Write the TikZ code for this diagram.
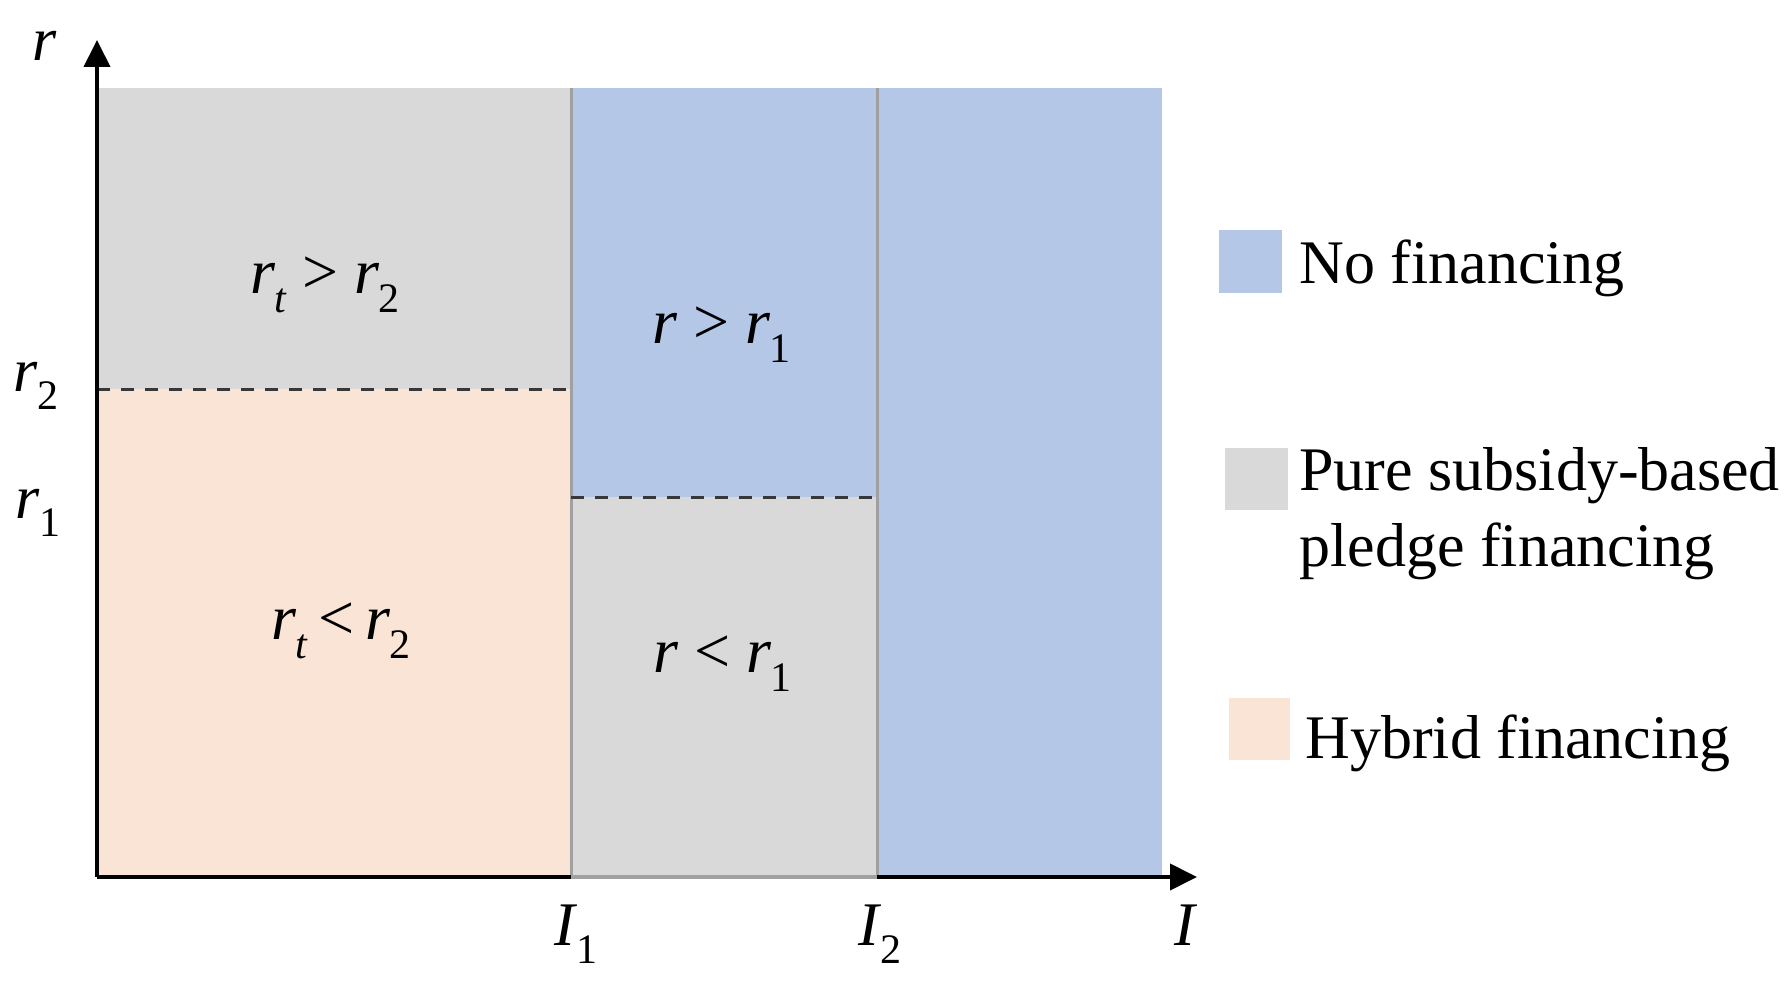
\documentclass[tikz,border=0pt]{standalone}
\usepackage{fontspec}
\setmainfont{Liberation Serif}
\usetikzlibrary{arrows.meta}
\definecolor{nofin}{RGB}{180,199,231}
\definecolor{pure}{RGB}{217,217,217}
\definecolor{hyb}{RGB}{250,228,214}
\definecolor{divider}{RGB}{160,160,160}
\definecolor{dashc}{RGB}{55,55,55}
\newcommand{\sv}[2]{\textit{#1}\kern-0.02em\raisebox{-0.3em}{\fontsize{21}{21}\selectfont #2}}
\begin{document}
\begin{tikzpicture}[x=0.5pt,y=-0.5pt,
  axisline/.style={line width=2pt,-{Triangle[length=13.5pt,width=13pt]}},
  divline/.style={draw=divider,line width=1.5pt},
  dashline/.style={draw=dashc,line width=1.5pt,dash pattern=on 6.5pt off 5.5pt},
  mlabel/.style={font=\fontsize{32}{36}\selectfont,anchor=base,inner sep=0pt},
  alabel/.style={font=\fontsize{31}{34}\selectfont,anchor=base,inner sep=0pt},
  legtext/.style={font=\fontsize{31}{38}\selectfont,anchor=base west,inner sep=0pt,align=left}]
\useasboundingbox (0,0) rectangle (1790,990);
% regions
\fill[pure] (97,88) rectangle (571,389);
\fill[hyb] (97,389) rectangle (571,877);
\fill[nofin] (571,88) rectangle (877,497);
\fill[pure] (571,497) rectangle (877,877);
\fill[nofin] (877,88) rectangle (1162,877);
% coordinates
\coordinate (O) at (97,877);
\coordinate (xend) at (1197,877);
\coordinate (yend) at (97,40);
\coordinate (I1top) at (571,88);
\coordinate (I1bot) at (571,877);
\coordinate (I2top) at (877,88);
\coordinate (I2bot) at (877,877);
\coordinate (r2a) at (97,389);
\coordinate (r2b) at (571,389);
\coordinate (r1a) at (571,497);
\coordinate (r1b) at (877,497);
% dividers
\draw[divline] (I1top) -- (I1bot);
\draw[divline] (I2top) -- (I2bot);
% dashed thresholds
\draw[dashline] (r2a) -- (r2b);
\draw[dashline] (r1a) -- (r1b);
% axes
\draw[axisline] (O) -- (xend);
\draw[axisline] (O) -- (yend);
\draw[draw=divider,line width=2pt] (I1bot) -- (I2bot);
% axis labels
\node[alabel] (lr) at (45,61) {\textit{r}};
\node[alabel] (lr2) at (36,391) {\sv{r}{2}};
\node[alabel] (lr1) at (38,518) {\sv{r}{1}};
\node[alabel] (lI1) at (576,945) {\sv{I}{1}};
\node[alabel] (lI2) at (880,945) {\sv{I}{2}};
\node[alabel] (lI) at (1186,945) {\textit{I}};
% region labels
\node[mlabel] (t1) at (325,293) {\sv{r}{\textit{t}} {>} \sv{r}{2}};
\node[mlabel] (t2) at (721,343) {\textit{r} {>} \sv{r}{1}};
\node[mlabel] (t3) at (341,639) {\sv{r}{\textit{t}}\,{<}\,\sv{r}{2}};
\node[mlabel] (t4) at (722,672) {\textit{r} {<} \sv{r}{1}};
% legend
\fill[nofin] (1219,230) rectangle (1282,293);
\node[legtext] (lg1) at (1299,284) {No financing};
\fill[pure] (1225,448) rectangle (1288,510);
\node[legtext] (lg2) at (1299,566) {Pure subsidy-based\\pledge financing};
\fill[hyb] (1229,698) rectangle (1290,760);
\node[legtext] (lg3) at (1305,758) {Hybrid financing};
\end{tikzpicture}
\end{document}
